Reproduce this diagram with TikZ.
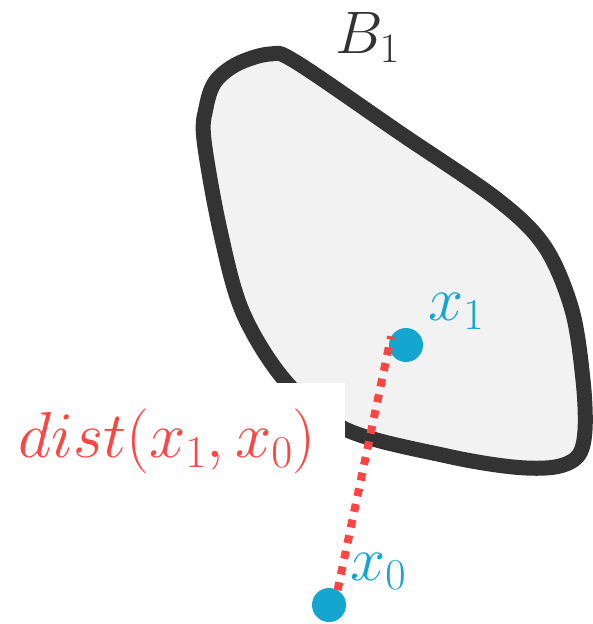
\RequirePackage{fix-cm}
\documentclass[tikz,border=0pt]{standalone}
\usepackage{xcolor}

\definecolor{outline}{HTML}{333333}
\definecolor{regionfill}{HTML}{F2F2F2}
\definecolor{ptblue}{HTML}{14A6CE}
\definecolor{distred}{HTML}{FF4444}

\begin{document}
\begin{tikzpicture}[
  x=1pt, y=-1pt,
  every node/.style={inner sep=0pt},
  region/.style={draw=outline, fill=regionfill, line width=15pt, line join=round},
  pt/.style={circle, fill=ptblue, minimum size=34pt, inner sep=0pt},
  lbl/.style={font=\fontsize{63}{75}\selectfont},
  distline/.style={draw=distred, line width=8pt, dash pattern=on 8pt off 8pt}]

  \useasboundingbox (0,0) rectangle (592,624);

  % the set B_1
  \draw[region] plot[smooth cycle, tension=0.55] coordinates {
    (204,140) (206,108) (215,82) (237,64) (270,54) (296,62) (400,133)
    (498,200) (545,247) (572,310) (583,380) (585,430) (578,456) (555,467)
    (513,467) (447,456) (347,430) (287,383) (243,313) (220,230)};

  \node[lbl, text=outline, anchor=base west, font=\fontsize{60}{72}\selectfont]
    (B1) at (335,53) {$B_1$};

  % label sits on a white box
  \node[lbl, text=distred, fill=white, inner xsep=29pt, inner ysep=26pt,
        anchor=north east, font=\fontsize{65}{78}\selectfont] (dist) at (345,383)
        {$dist(x_1,x_0)$};

  \node[pt] (x1) at (406,345) {};
  \node[pt] (x0) at (329,605) {};
  \node[lbl, text=ptblue, anchor=base west] (x1lbl) at (428,320) {$x_1$};
  \node[lbl, text=ptblue, anchor=base west] (x0lbl) at (350,580) {$x_0$};

  \draw[distline] (x0.60) -- (x1.150);

\end{tikzpicture}
\end{document}
